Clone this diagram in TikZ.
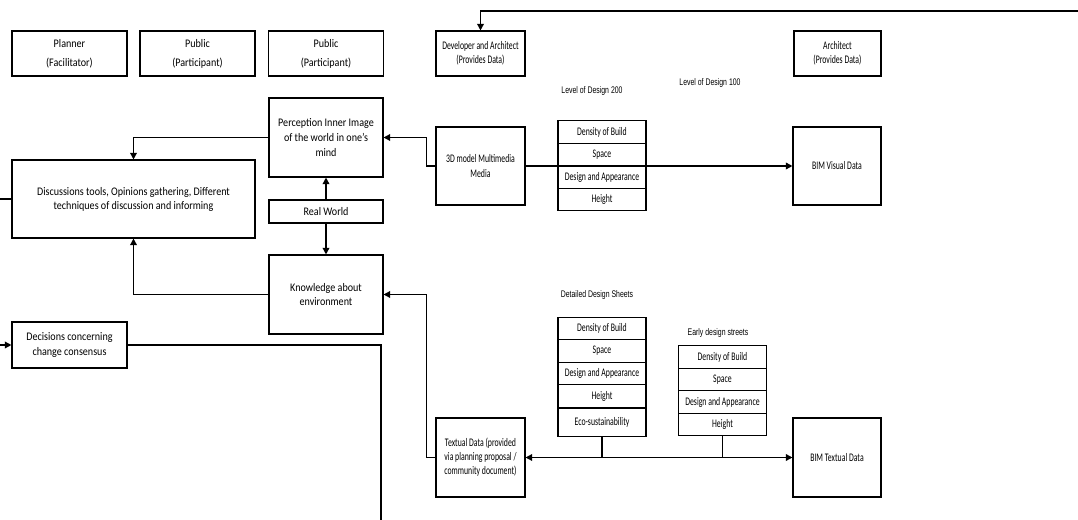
\documentclass[tikz,border=0pt]{standalone}
\usepackage{fontspec}
\setmainfont{Carlito}[FakeStretch=0.67]
\newfontfamily\widefont{Carlito}[FakeStretch=0.87]
\newfontfamily\lodfont{Liberation Sans}[FakeStretch=0.72]
\usetikzlibrary{arrows.meta, positioning}

\begin{document}
\begin{tikzpicture}[x=0.75pt, y=-0.75pt, line width=0.8pt,
  >={Triangle[length=5pt, width=5pt]},
  box/.style={draw, align=center, inner sep=1pt, font=\fontsize{8.7}{10.6}\selectfont},
  widebox/.style={box, font=\widefont\fontsize{8.7}{11.2}\selectfont},
  headbox/.style={box, minimum width=86.25pt, minimum height=33.75pt, font=\widefont\fontsize{8.7}{14.2}\selectfont},
  cell/.style={draw, minimum width=66pt, minimum height=16.9pt, inner sep=0pt, font=\fontsize{8.7}{10.6}\selectfont},
  lod/.style={font=\lodfont\fontsize{7.2}{8.6}\selectfont},
  link/.style={line width=1.1pt}]
  \useasboundingbox (0,0) rectangle (1078,520);

  % header row
  \node[headbox] (planner) at (69.5,53.5) {Planner\\(Facilitator)};
  \node[headbox] (public1) at (197.5,53.5) {Public\\(Participant)};
  \node[headbox] (public2) at (326,53.5) {Public\\(Participant)};
  \node[box, minimum width=66.75pt, minimum height=33.75pt] (dev) at (480.5,53.5) {Developer and Architect\\(Provides Data)};
  \node[box, minimum width=65.25pt, minimum height=33.75pt] (arch) at (837.5,53.5) {Architect\\(Provides Data)};

  \node[lod] (lod200lbl) at (592,91) {Level of Design 200};
  \node[lod] (lod100lbl) at (710,83) {Level of Design 100};
  \node[lod] (ddslbl) at (597,295) {Detailed Design Sheets};
  \node[lod] (edslbl) at (718,333) {Early design streets};

  % left column
  \node[widebox, minimum width=182.25pt, minimum height=58.5pt, font=\widefont\fontsize{8.7}{10.5}\selectfont] (disc) at (133.5,199)
    {Discussions tools, Opinions gathering, Different\\techniques of discussion and informing};
  \node[widebox, minimum width=86.25pt, minimum height=34.5pt] (dec) at (69.5,345) {Decisions concerning\\change consensus};

  % middle column
  \node[widebox, minimum width=85.5pt, minimum height=59.25pt] (percep) at (326,137.5)
    {Perception Inner Image\\of the world in one’s\\mind};
  \node[widebox, minimum width=85.5pt, minimum height=17.25pt] (realw) at (326,211.5) {Real World};
  \node[widebox, minimum width=85.5pt, minimum height=59.25pt] (know) at (326,294.5) {Knowledge about\\environment};

  % data sources
  \node[box, minimum width=66.75pt, minimum height=58.5pt] (model) at (480.5,166) {3D model Multimedia\\Media};
  \node[box, minimum width=66.75pt, minimum height=59.25pt] (textual) at (480.5,457.5)
    {Textual Data (provided\\via planning proposal /\\community document)};
  \node[box, minimum width=66pt, minimum height=58.5pt] (bimv) at (837,166) {BIM Visual Data};
  \node[box, minimum width=66pt, minimum height=59.25pt] (bimt) at (837,457.5) {BIM Textual Data};

  % tables
  \foreach \t [count=\i] in {Density of Build, Space, Design and Appearance, Height}
    \node[cell] (lod\i) at (602,109.5+22.5*\i) {\t};
  \foreach \t [count=\i] in {Density of Build, Space, Design and Appearance, Height}
    \node[cell] (dds\i) at (602,306+22.5*\i) {\t};
  \node[cell, minimum height=21pt, below=0pt of dds4] (dds5) {Eco-sustainability};
  \foreach \t [count=\i] in {Density of Build, Space, Design and Appearance, Height}
    \node[cell] (eds\i) at (722.5,334.5+22.5*\i) {\t};

  % free ends
  \coordinate (topR) at (1078,11);
  \coordinate (leftA) at (0,199);
  \coordinate (leftB) at (0,345);
  \coordinate (botR) at (381,520);

  \draw[link,->] (topR) -| (dev.north);
  \draw[link] (leftA) -- (disc.west);
  \draw[link,->] (leftB) -- (dec.west);
  \draw[link] (dec.east) -| (botR);
  \draw[link,->] (percep.west) -| (disc.north);
  \draw[link,->] (know.west) -| (disc.south);
  \draw[link,->] (realw.north) -- (percep.south);
  \draw[link,->] (realw.south) -- (know.north);
  \draw[link,->] (model.west) -- ++(-9,0) |- (percep.east);
  \draw[link,->] (model.east) -- (bimv.west);
  \draw[link,->] (textual.west) -- ++(-9,0) |- (know.east);
  \draw[link,<->] (textual.east) -- (bimt.west);
  \draw (dds5.south) -- (dds5.south |- textual.east);
  \draw (eds4.south) -- (eds4.south |- textual.east);
\end{tikzpicture}
\end{document}
